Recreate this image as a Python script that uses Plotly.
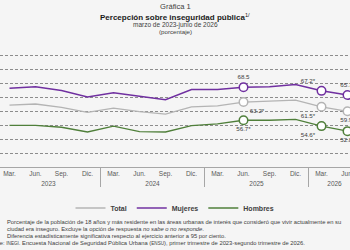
import plotly.graph_objects as go

years = ["2023"] * 4 + ["2024"] * 4 + ["2025"] * 4 + ["2026"] * 2
quarters = ["Mar.", "Jun.", "Sep.", "Dic."] * 3 + ["Mar.", "Jun."]

total = [62.1, 62.5, 61.3, 59.5, 61.0, 59.8, 58.9, 61.5, 61.8, 63.2, 63.5, 63.9, 61.5, 59.9]
mujeres = [68.1, 68.7, 67.3, 65.0, 66.5, 65.2, 64.0, 67.7, 67.7, 68.5, 68.7, 69.5, 67.2, 65.7]
hombres = [54.9, 54.9, 54.2, 52.5, 54.6, 52.6, 52.5, 54.8, 55.4, 56.7, 56.7, 57.0, 54.6, 52.8]

highlight_idx = [9, 12, 13]
sig_mujeres = [False, True, True]
sig_total = [True, True, True]
sig_hombres = [True, True, True]

pos_mujeres = ["top center", "top left", "top center"]
pos_total = ["bottom right", "bottom left", "bottom center"]
pos_hombres = ["bottom center", "bottom left", "bottom center"]

FONT = "Arial, Liberation Sans, sans-serif"
BG = "#f5f5f5"
TXT = "#404040"

series = [
    ("Total", total, "#b4b4b4", 1.3, sig_total, pos_total),
    ("Mujeres", mujeres, "#7030a0", 1.5, sig_mujeres, pos_mujeres),
    ("Hombres", hombres, "#4f7f3a", 1.3, sig_hombres, pos_hombres),
]

fig = go.Figure()
for name, vals, col, lw, sig, pos in series:
    fig.add_trace(go.Scatter(
        x=[years, quarters], y=vals, mode="lines", name=name,
        line=dict(color=col, width=lw), showlegend=True,
    ))
for name, vals, col, lw, sig, pos in series:
    hx = [[years[i] for i in highlight_idx], [quarters[i] for i in highlight_idx]]
    hy = [vals[i] for i in highlight_idx]
    labels = [f"{vals[i]:.1f}" + ("*" if s else "") for i, s in zip(highlight_idx, sig)]
    fig.add_trace(go.Scatter(
        x=hx, y=hy, mode="markers+text", showlegend=False,
        marker=dict(size=8.5, color="white", line=dict(color=col, width=1.5)),
        text=labels, textposition=pos,
        textfont=dict(family=FONT, size=6.2, color=TXT),
        cliponaxis=False,
    ))

fig.update_xaxes(
    type="multicategory", range=[-0.365, 13.096],
    showgrid=False, showline=True, linecolor="#a6a6a6", linewidth=1,
    showdividers=True, dividercolor="#a6a6a6", dividerwidth=1,
    tickfont=dict(family=FONT, size=6.5, color="#595959"),
    tickangle=0, ticks="", automargin=False,
)
fig.update_yaxes(
    range=[40, 85], dtick=5, tick0=40, showticklabels=False,
    showgrid=True, gridcolor="#8c8c8c", gridwidth=0.8, griddash="3px,2px",
    zeroline=False, showline=False, automargin=False,
)

H = 250


def cy(pix):
    return 1 - pix / H


def py(pix):
    return (167 - pix) / 126


title_lines = [
    ("Gráfica 1", 7.6, TXT, 6),
    ("<b>Percepción sobre inseguridad pública</b><sup>1/</sup>", 8.0, "#1a1a1a", 16.5),
    ("marzo de 2023-junio de 2026", 6.5, TXT, 24.5),
    ("(porcentaje)", 6.2, TXT, 31.5),
]

for text, size, col, ypix in title_lines:
    fig.add_annotation(
        text=text, xref="paper", yref="paper", x=0.5, y=py(ypix),
        xanchor="center", yanchor="middle", showarrow=False,
        font=dict(family=FONT, size=size, color=col),
    )

notes = [
    ("Porcentaje de la población de 18 años y más residente en las áreas urbanas de interés que consideró que vivir actualmente en su", 222, 5 / 350),
    ("ciudad era inseguro. Excluye la opción de respuesta <i>no sabe o no responde</i>.", 229, 5 / 350),
    ("Diferencia estadísticamente significativa respecto al ejercicio anterior a 95 por ciento.", 236, 5 / 350),
    ("Fuente: <span style='font-size:4.6px'>INEGI</span>. Encuesta Nacional de Seguridad Pública Urbana (<span style='font-size:4.6px'>ENSU</span>), primer trimestre de 2023-segundo trimestre de 2026.", 243, -0.05),
]
for text, ypix, xp in notes:
    fig.add_annotation(
        text=text, xref="paper", yref="paper", x=xp, y=py(ypix),
        xanchor="left", yanchor="middle", showarrow=False, align="left",
        font=dict(family=FONT, size=5.8, color=TXT),
    )

fig.update_layout(
    width=350, height=250,
    margin=dict(l=0, r=0, t=41, b=83, autoexpand=False),
    paper_bgcolor=BG, plot_bgcolor=BG,
    font=dict(family=FONT, color=TXT),
    legend=dict(
        orientation="h", x=0.5, xanchor="center",
        yref="container", y=cy(208), yanchor="middle",
        font=dict(family=FONT, size=7, color=TXT, weight="bold"),
        itemwidth=30, bgcolor="rgba(0,0,0,0)", tracegroupgap=0,
    ),
)

fig.write_html("out.html")
